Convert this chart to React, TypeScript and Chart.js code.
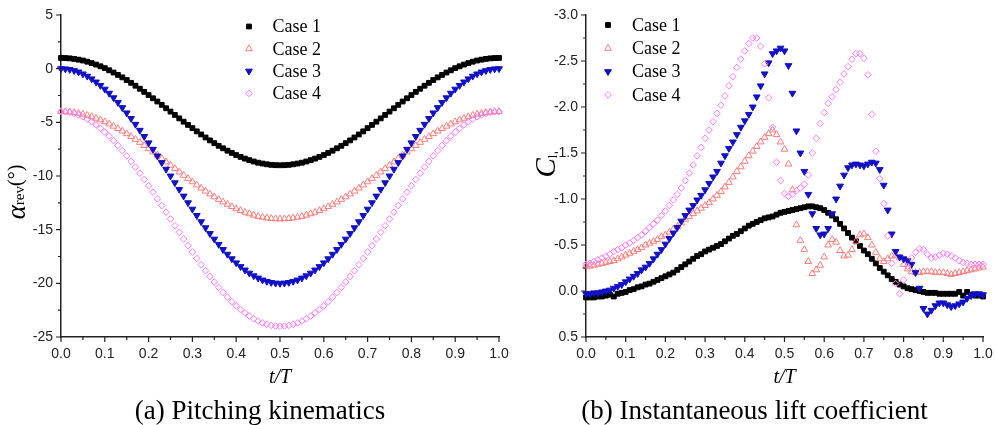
import React, { useEffect, useRef } from 'react';
import { Chart, registerables } from 'chart.js';

Chart.register(...registerables);

// ---------------- data ----------------
const T = [
  0, 0.01, 0.02, 0.03, 0.04, 0.05, 0.06, 0.07, 0.08, 0.09,
  0.1, 0.11, 0.12, 0.13, 0.14, 0.15, 0.16, 0.17, 0.18, 0.19,
  0.2, 0.21, 0.22, 0.23, 0.24, 0.25, 0.26, 0.27, 0.28, 0.29,
  0.3, 0.31, 0.32, 0.33, 0.34, 0.35, 0.36, 0.37, 0.38, 0.39,
  0.4, 0.41, 0.42, 0.43, 0.44, 0.45, 0.46, 0.47, 0.48, 0.49,
  0.5, 0.51, 0.52, 0.53, 0.54, 0.55, 0.56, 0.57, 0.58, 0.59,
  0.6, 0.61, 0.62, 0.63, 0.64, 0.65, 0.66, 0.67, 0.68, 0.69,
  0.7, 0.71, 0.72, 0.73, 0.74, 0.75, 0.76, 0.77, 0.78, 0.79,
  0.8, 0.81, 0.82, 0.83, 0.84, 0.85, 0.86, 0.87, 0.88, 0.89,
  0.9, 0.91, 0.92, 0.93, 0.94, 0.95, 0.96, 0.97, 0.98, 0.99,
  1.0,
];

// (a) pitching angle alpha_rev (deg)
const pitchCase1 = [
  1.00, 0.99, 0.96, 0.91, 0.84, 0.76, 0.65, 0.52, 0.38, 0.22,
  0.05, -0.15, -0.36, -0.58, -0.81, -1.06, -1.32, -1.59, -1.87, -2.16,
  -2.46, -2.76, -3.06, -3.37, -3.69, -4.00, -4.31, -4.63, -4.94, -5.24,
  -5.54, -5.84, -6.13, -6.41, -6.68, -6.94, -7.19, -7.42, -7.64, -7.85,
  -8.05, -8.22, -8.38, -8.52, -8.65, -8.76, -8.84, -8.91, -8.96, -8.99,
  -9.00, -8.99, -8.96, -8.91, -8.84, -8.76, -8.65, -8.52, -8.38, -8.22,
  -8.05, -7.85, -7.64, -7.42, -7.19, -6.94, -6.68, -6.41, -6.13, -5.84,
  -5.54, -5.24, -4.94, -4.63, -4.31, -4.00, -3.69, -3.37, -3.06, -2.76,
  -2.46, -2.16, -1.87, -1.59, -1.32, -1.06, -0.81, -0.58, -0.36, -0.15,
  0.05, 0.22, 0.38, 0.52, 0.65, 0.76, 0.84, 0.91, 0.96, 0.99,
  1.00,
];
const pitchCase2 = [
  -4.00, -4.01, -4.04, -4.09, -4.16, -4.24, -4.35, -4.48, -4.62, -4.78,
  -4.95, -5.15, -5.36, -5.58, -5.81, -6.06, -6.32, -6.59, -6.87, -7.16,
  -7.46, -7.76, -8.06, -8.37, -8.69, -9.00, -9.31, -9.63, -9.94, -10.24,
  -10.54, -10.84, -11.13, -11.41, -11.68, -11.94, -12.19, -12.42, -12.64, -12.85,
  -13.05, -13.22, -13.38, -13.52, -13.65, -13.76, -13.84, -13.91, -13.96, -13.99,
  -14.00, -13.99, -13.96, -13.91, -13.84, -13.76, -13.65, -13.52, -13.38, -13.22,
  -13.05, -12.85, -12.64, -12.42, -12.19, -11.94, -11.68, -11.41, -11.13, -10.84,
  -10.54, -10.24, -9.94, -9.63, -9.31, -9.00, -8.69, -8.37, -8.06, -7.76,
  -7.46, -7.16, -6.87, -6.59, -6.32, -6.06, -5.81, -5.58, -5.36, -5.15,
  -4.95, -4.78, -4.62, -4.48, -4.35, -4.24, -4.16, -4.09, -4.04, -4.01,
  -4.00,
];
const pitchCase3 = [
  0.00, -0.02, -0.08, -0.18, -0.31, -0.49, -0.70, -0.95, -1.24, -1.56,
  -1.91, -2.29, -2.71, -3.15, -3.63, -4.12, -4.64, -5.18, -5.74, -6.32,
  -6.91, -7.51, -8.13, -8.75, -9.37, -10.00, -10.63, -11.25, -11.87, -12.49,
  -13.09, -13.68, -14.26, -14.82, -15.36, -15.88, -16.37, -16.85, -17.29, -17.71,
  -18.09, -18.44, -18.76, -19.05, -19.30, -19.51, -19.69, -19.82, -19.92, -19.98,
  -20.00, -19.98, -19.92, -19.82, -19.69, -19.51, -19.30, -19.05, -18.76, -18.44,
  -18.09, -17.71, -17.29, -16.85, -16.37, -15.88, -15.36, -14.82, -14.26, -13.68,
  -13.09, -12.49, -11.87, -11.25, -10.63, -10.00, -9.37, -8.75, -8.13, -7.51,
  -6.91, -6.32, -5.74, -5.18, -4.64, -4.12, -3.63, -3.15, -2.71, -2.29,
  -1.91, -1.56, -1.24, -0.95, -0.70, -0.49, -0.31, -0.18, -0.08, -0.02,
  0.00,
];
const pitchCase4 = [
  -4.00, -4.02, -4.08, -4.18, -4.31, -4.49, -4.70, -4.95, -5.24, -5.56,
  -5.91, -6.29, -6.71, -7.15, -7.63, -8.12, -8.64, -9.18, -9.74, -10.32,
  -10.91, -11.51, -12.13, -12.75, -13.37, -14.00, -14.63, -15.25, -15.87, -16.49,
  -17.09, -17.68, -18.26, -18.82, -19.36, -19.88, -20.37, -20.85, -21.29, -21.71,
  -22.09, -22.44, -22.76, -23.05, -23.30, -23.51, -23.69, -23.82, -23.92, -23.98,
  -24.00, -23.98, -23.92, -23.82, -23.69, -23.51, -23.30, -23.05, -22.76, -22.44,
  -22.09, -21.71, -21.29, -20.85, -20.37, -19.88, -19.36, -18.82, -18.26, -17.68,
  -17.09, -16.49, -15.87, -15.25, -14.63, -14.00, -13.37, -12.75, -12.13, -11.51,
  -10.91, -10.32, -9.74, -9.18, -8.64, -8.12, -7.63, -7.15, -6.71, -6.29,
  -5.91, -5.56, -5.24, -4.95, -4.70, -4.49, -4.31, -4.18, -4.08, -4.02,
  -4.00,
];

// (b) instantaneous lift coefficient C_l
const liftCase1 = [
  0.07, 0.07, 0.07, 0.06, 0.06, 0.05, 0.04, 0.06, 0.03, 0.02,
  0.01, -0.01, -0.02, -0.04, -0.05, -0.07, -0.08, -0.10, -0.12, -0.14,
  -0.16, -0.18, -0.20, -0.23, -0.26, -0.29, -0.32, -0.35, -0.38, -0.40,
  -0.43, -0.45, -0.47, -0.49, -0.51, -0.54, -0.57, -0.60, -0.62, -0.65,
  -0.68, -0.71, -0.73, -0.75, -0.77, -0.79, -0.80, -0.81, -0.83, -0.85,
  -0.86, -0.87, -0.88, -0.89, -0.90, -0.91, -0.92, -0.92, -0.91, -0.90,
  -0.88, -0.85, -0.82, -0.78, -0.73, -0.68, -0.63, -0.58, -0.54, -0.49,
  -0.44, -0.40, -0.35, -0.30, -0.25, -0.21, -0.17, -0.13, -0.10, -0.07,
  -0.05, -0.03, -0.02, -0.01, 0.00, 0.01, 0.02, 0.02, 0.02, 0.03,
  0.03, 0.03, 0.03, 0.03, 0.01, 0.05, 0.01, 0.04, 0.05, 0.05,
  0.06,
];
const liftCase2 = [
  -0.27, -0.27, -0.28, -0.29, -0.30, -0.31, -0.32, -0.33, -0.35, -0.37,
  -0.39, -0.41, -0.43, -0.45, -0.47, -0.50, -0.52, -0.54, -0.56, -0.59,
  -0.61, -0.64, -0.67, -0.70, -0.74, -0.78, -0.81, -0.84, -0.87, -0.90,
  -0.93, -0.96, -1.00, -1.04, -1.08, -1.13, -1.18, -1.24, -1.30, -1.35,
  -1.41, -1.47, -1.52, -1.57, -1.62, -1.67, -1.71, -1.75, -1.70, -1.62,
  -1.54, -1.38, -1.10, -0.72, -0.55, -0.45, -0.32, -0.19, -0.23, -0.28,
  -0.37, -0.50, -0.56, -0.53, -0.44, -0.38, -0.39, -0.45, -0.54, -0.61,
  -0.62, -0.58, -0.50, -0.42, -0.35, -0.32, -0.35, -0.38, -0.39, -0.36,
  -0.29, -0.24, -0.21, -0.20, -0.20, -0.21, -0.21, -0.21, -0.20, -0.20,
  -0.20, -0.19, -0.18, -0.19, -0.20, -0.21, -0.22, -0.23, -0.24, -0.25,
  -0.26,
];
const liftCase3 = [
  0.03, 0.03, 0.02, 0.02, 0.01, 0.00, -0.01, -0.03, -0.05, -0.07,
  -0.10, -0.13, -0.16, -0.19, -0.23, -0.26, -0.30, -0.35, -0.40, -0.45,
  -0.51, -0.57, -0.63, -0.69, -0.76, -0.82, -0.88, -0.93, -0.99, -1.04,
  -1.10, -1.17, -1.24, -1.30, -1.39, -1.47, -1.55, -1.62, -1.70, -1.78,
  -1.85, -1.92, -2.00, -2.11, -2.23, -2.36, -2.48, -2.58, -2.61, -2.64,
  -2.61, -2.45, -2.15, -1.74, -1.50, -1.30, -1.05, -0.84, -0.68, -0.61,
  -0.62, -0.68, -0.84, -1.00, -1.14, -1.26, -1.34, -1.37, -1.38, -1.37,
  -1.36, -1.38, -1.40, -1.39, -1.32, -1.15, -0.88, -0.62, -0.43, -0.37,
  -0.35, -0.33, -0.29, -0.20, -0.03, 0.19, 0.25, 0.21, 0.16, 0.13,
  0.13, 0.15, 0.17, 0.16, 0.14, 0.12, 0.08, 0.05, 0.03, 0.03,
  0.04,
];
const liftCase4 = [
  -0.29, -0.30, -0.32, -0.34, -0.36, -0.38, -0.40, -0.43, -0.45, -0.47,
  -0.50, -0.52, -0.55, -0.58, -0.61, -0.65, -0.69, -0.73, -0.77, -0.82,
  -0.87, -0.93, -0.99, -1.05, -1.12, -1.20, -1.28, -1.37, -1.47, -1.56,
  -1.66, -1.75, -1.84, -1.93, -2.02, -2.12, -2.23, -2.33, -2.43, -2.52,
  -2.61, -2.69, -2.75, -2.75, -2.66, -2.47, -2.10, -1.78, -1.40, -1.20,
  -1.06, -1.03, -1.05, -1.09, -1.12, -1.16, -1.26, -1.50, -1.66, -1.82,
  -1.94, -2.04, -2.11, -2.19, -2.27, -2.36, -2.44, -2.52, -2.58, -2.58,
  -2.53, -2.35, -1.92, -1.52, -1.22, -0.95, -0.60, -0.30, -0.08, 0.03,
  -0.12, -0.27, -0.36, -0.42, -0.46, -0.45, -0.40, -0.36, -0.37, -0.39,
  -0.41, -0.40, -0.38, -0.36, -0.33, -0.31, -0.30, -0.29, -0.29, -0.29,
  -0.29,
];

const X_TICKS = [0, 0.1, 0.2, 0.3, 0.4, 0.5, 0.6, 0.7, 0.8, 0.9, 1.0];
const PITCH_Y_TICKS = [-25, -20, -15, -10, -5, 0, 5];
const LIFT_Y_TICKS = [-3.0, -2.5, -2.0, -1.5, -1.0, -0.5, 0.0, 0.5];
const CASE_LABELS = ['Case 1', 'Case 2', 'Case 3', 'Case 4'];
const CAPTION_A = '(a) Pitching kinematics';
const CAPTION_B = '(b) Instantaneous lift coefficient';

// ---------------- styles ----------------
const SERIF = '"Liberation Serif", "Times New Roman", serif';
const SANS = '"Liberation Sans", Arial, sans-serif';
const AXIS_COLOR = '#222222';

type MarkerStyle = {
  color: string;
  pointStyle: 'rect' | 'triangle' | 'rectRot';
  radius: number;
  filled: boolean;
  rotation: number;
};
const STYLES: MarkerStyle[] = [
  { color: '#000000', pointStyle: 'rect', radius: 3.4, filled: true, rotation: 0 },
  { color: '#FF7C7C', pointStyle: 'triangle', radius: 3.9, filled: false, rotation: 0 },
  { color: '#1010C8', pointStyle: 'triangle', radius: 3.9, filled: true, rotation: 180 },
  { color: '#FF78FF', pointStyle: 'rectRot', radius: 3.3, filled: false, rotation: 0 },
];

function drawMarker(ctx: CanvasRenderingContext2D, s: MarkerStyle, x: number, y: number) {
  ctx.save();
  ctx.beginPath();
  const r = s.radius;
  if (s.pointStyle === 'rect') {
    const h = r * Math.SQRT1_2;
    ctx.rect(x - h, y - h, 2 * h, 2 * h);
  } else if (s.pointStyle === 'triangle') {
    let a = (s.rotation * Math.PI) / 180;
    ctx.moveTo(x + Math.sin(a) * r, y - Math.cos(a) * r);
    a += (2 * Math.PI) / 3;
    ctx.lineTo(x + Math.sin(a) * r, y - Math.cos(a) * r);
    a += (2 * Math.PI) / 3;
    ctx.lineTo(x + Math.sin(a) * r, y - Math.cos(a) * r);
    ctx.closePath();
  } else {
    ctx.moveTo(x - r, y);
    ctx.lineTo(x, y - r);
    ctx.lineTo(x + r, y);
    ctx.lineTo(x, y + r);
    ctx.closePath();
  }
  if (s.filled) {
    ctx.fillStyle = s.color;
    ctx.fill();
  }
  ctx.strokeStyle = s.color;
  ctx.lineWidth = 1;
  ctx.stroke();
  ctx.restore();
}

type Run = { text: string; font: string; dy: number };
function drawRunsCentered(ctx: CanvasRenderingContext2D, runs: Run[], cx: number, baseY: number) {
  let total = 0;
  const widths = runs.map((r) => {
    ctx.font = r.font;
    const w = ctx.measureText(r.text).width;
    total += w;
    return w;
  });
  let x = cx - total / 2;
  ctx.textAlign = 'left';
  ctx.textBaseline = 'alphabetic';
  runs.forEach((r, i) => {
    ctx.font = r.font;
    ctx.fillText(r.text, x, baseY + r.dy);
    x += widths[i];
  });
}

type Decor = {
  yTicks: number[];
  yTitleRuns: Run[];
  yTitleBaseX: number;
  yTitleCenterY: number;
  legend: { mx: number; tx: number; y0: number; dy: number };
  caption: string;
  captionX: number;
};

function makeDecorPlugin(d: Decor) {
  return {
    id: 'decor',
    afterDraw(chart: any) {
      const ctx: CanvasRenderingContext2D = chart.ctx;
      const xs = chart.scales.x;
      const ys = chart.scales.y;
      const { left, right, bottom } = chart.chartArea;
      ctx.save();
      // tick marks (major + minor), outward
      ctx.strokeStyle = AXIS_COLOR;
      ctx.lineWidth = 1.2;
      ctx.beginPath();
      X_TICKS.forEach((v, i) => {
        const px = xs.getPixelForValue(v);
        ctx.moveTo(px, bottom);
        ctx.lineTo(px, bottom + 5);
        if (i < X_TICKS.length - 1) {
          const m = xs.getPixelForValue((v + X_TICKS[i + 1]) / 2);
          ctx.moveTo(m, bottom);
          ctx.lineTo(m, bottom + 3);
        }
      });
      d.yTicks.forEach((v, i) => {
        const py = ys.getPixelForValue(v);
        ctx.moveTo(left, py);
        ctx.lineTo(left - 5, py);
        if (i < d.yTicks.length - 1) {
          const m = ys.getPixelForValue((v + d.yTicks[i + 1]) / 2);
          ctx.moveTo(left, m);
          ctx.lineTo(left - 3, m);
        }
      });
      ctx.stroke();

      // legend
      CASE_LABELS.forEach((label, i) => {
        const y = d.legend.y0 + i * d.legend.dy;
        drawMarker(ctx, STYLES[i], d.legend.mx, y);
        ctx.fillStyle = '#000';
        ctx.font = `18px ${SERIF}`;
        ctx.textAlign = 'left';
        ctx.textBaseline = 'middle';
        ctx.fillText(label, d.legend.tx, y + 1);
      });

      // x title
      ctx.fillStyle = '#000';
      ctx.font = `italic 20px ${SERIF}`;
      ctx.textAlign = 'center';
      ctx.textBaseline = 'alphabetic';
      ctx.fillText('t/T', (left + right) / 2, 383);

      // y title (rotated)
      ctx.save();
      ctx.translate(d.yTitleBaseX, d.yTitleCenterY);
      ctx.rotate(-Math.PI / 2);
      drawRunsCentered(ctx, d.yTitleRuns, 0, 0);
      ctx.restore();

      // caption
      ctx.font = `27px ${SERIF}`;
      ctx.textAlign = 'center';
      ctx.textBaseline = 'alphabetic';
      ctx.fillText(d.caption, d.captionX, 419);
      ctx.restore();
    },
  };
}

function buildDatasets(series: number[][]) {
  return series.map((s, i) => ({
    label: CASE_LABELS[i],
    data: T.map((t, k) => ({ x: t, y: s[k] })),
    showLine: false,
    pointStyle: STYLES[i].pointStyle,
    pointRotation: STYLES[i].rotation,
    pointRadius: STYLES[i].radius,
    pointBorderWidth: 1,
    pointBorderColor: STYLES[i].color,
    pointBackgroundColor: STYLES[i].filled ? STYLES[i].color : 'rgba(0,0,0,0)',
    borderColor: STYLES[i].color,
    backgroundColor: STYLES[i].filled ? STYLES[i].color : 'rgba(0,0,0,0)',
    clip: false as any,
    order: 3 - i,
  }));
}

function makeConfig(opts: {
  series: number[][];
  yTicks: number[];
  yMin: number;
  yMax: number;
  reverse: boolean;
  yFormat: (v: number) => string;
  yAxisWidth: number;
  padRight: number;
  decor: Decor;
}): any {
  const tickFont = { family: SANS, size: 14 };
  return {
    type: 'scatter',
    data: { datasets: buildDatasets(opts.series) },
    options: {
      animation: false,
      responsive: false,
      maintainAspectRatio: false,
      events: [],
      layout: { padding: { left: 0, top: 15, right: opts.padRight, bottom: 48 } },
      plugins: {
        legend: { display: false },
        tooltip: { enabled: false },
        title: { display: false },
      },
      scales: {
        x: {
          type: 'linear',
          min: 0,
          max: 1,
          afterBuildTicks: (s: any) => {
            s.ticks = X_TICKS.map((v) => ({ value: v }));
          },
          afterFit: (s: any) => {
            s.height = 40;
            s.paddingLeft = 0;
            s.paddingRight = 0;
            s.paddingTop = 0;
            s.paddingBottom = 0;
          },
          grid: { display: false, drawTicks: false },
          border: { display: true, color: AXIS_COLOR, width: 1.5 },
          ticks: {
            padding: 9,
            font: tickFont,
            color: '#222',
            maxRotation: 0,
            autoSkip: false,
            callback: (v: number) => (Math.round(v * 10) / 10).toFixed(1),
          },
        },
        y: {
          type: 'linear',
          min: opts.yMin,
          max: opts.yMax,
          reverse: opts.reverse,
          afterBuildTicks: (s: any) => {
            s.ticks = opts.yTicks.map((v) => ({ value: v }));
          },
          afterFit: (s: any) => {
            s.width = opts.yAxisWidth;
            s.paddingLeft = 0;
            s.paddingRight = 0;
            s.paddingTop = 0;
            s.paddingBottom = 0;
          },
          grid: { display: false, drawTicks: false },
          border: { display: true, color: AXIS_COLOR, width: 1.5 },
          ticks: {
            padding: 8,
            font: tickFont,
            color: '#222',
            autoSkip: false,
            callback: (v: number) => opts.yFormat(v),
          },
        },
      },
    },
    plugins: [makeDecorPlugin(opts.decor)],
  };
}

export default function App() {
  const leftRef = useRef<HTMLCanvasElement>(null);
  const rightRef = useRef<HTMLCanvasElement>(null);

  useEffect(() => {
    const left = new Chart(
      leftRef.current as HTMLCanvasElement,
      makeConfig({
        series: [pitchCase1, pitchCase2, pitchCase3, pitchCase4],
        yTicks: PITCH_Y_TICKS,
        yMin: -25,
        yMax: 5,
        reverse: false,
        yFormat: (v) => String(Math.round(v)),
        yAxisWidth: 61,
        padRight: 16,
        decor: {
          yTicks: PITCH_Y_TICKS,
          yTitleRuns: [
            { text: 'α', font: `italic 27px ${SERIF}`, dy: 3 },
            { text: 'rev', font: `15px ${SERIF}`, dy: 2 },
            { text: '(°)', font: `20px ${SERIF}`, dy: 0 },
          ],
          yTitleBaseX: 22,
          yTitleCenterY: 192,
          legend: { mx: 249, tx: 272.5, y0: 26.5, dy: 22.3 },
          caption: CAPTION_A,
          captionX: 260,
        },
      })
    );
    const right = new Chart(
      rightRef.current as HTMLCanvasElement,
      makeConfig({
        series: [liftCase1, liftCase2, liftCase3, liftCase4],
        yTicks: LIFT_Y_TICKS,
        yMin: -3,
        yMax: 0.5,
        reverse: true,
        yFormat: (v) => (Math.round(v * 10) / 10).toFixed(1),
        yAxisWidth: 71,
        padRight: 12,
        decor: {
          yTicks: LIFT_Y_TICKS,
          yTitleRuns: [
            { text: 'C', font: `italic 29px ${SERIF}`, dy: 0 },
            { text: 'l', font: `13px ${SERIF}`, dy: 2 },
          ],
          yTitleBaseX: 40,
          yTitleCenterY: 166,
          legend: { mx: 93, tx: 117, y0: 25, dy: 23.3 },
          caption: CAPTION_B,
          captionX: 239.5,
        },
      })
    );
    return () => {
      left.destroy();
      right.destroy();
    };
  }, []);

  return (
    <div
      style={{
        position: 'fixed',
        left: 0,
        top: 0,
        width: 995,
        height: 425,
        background: '#ffffff',
        overflow: 'hidden',
      }}
    >
      <canvas
        ref={leftRef}
        width={515}
        height={425}
        style={{ position: 'absolute', left: 0, top: 0, width: 515, height: 425 }}
      />
      <canvas
        ref={rightRef}
        width={480}
        height={425}
        style={{ position: 'absolute', left: 515, top: 0, width: 480, height: 425 }}
      />
    </div>
  );
}
